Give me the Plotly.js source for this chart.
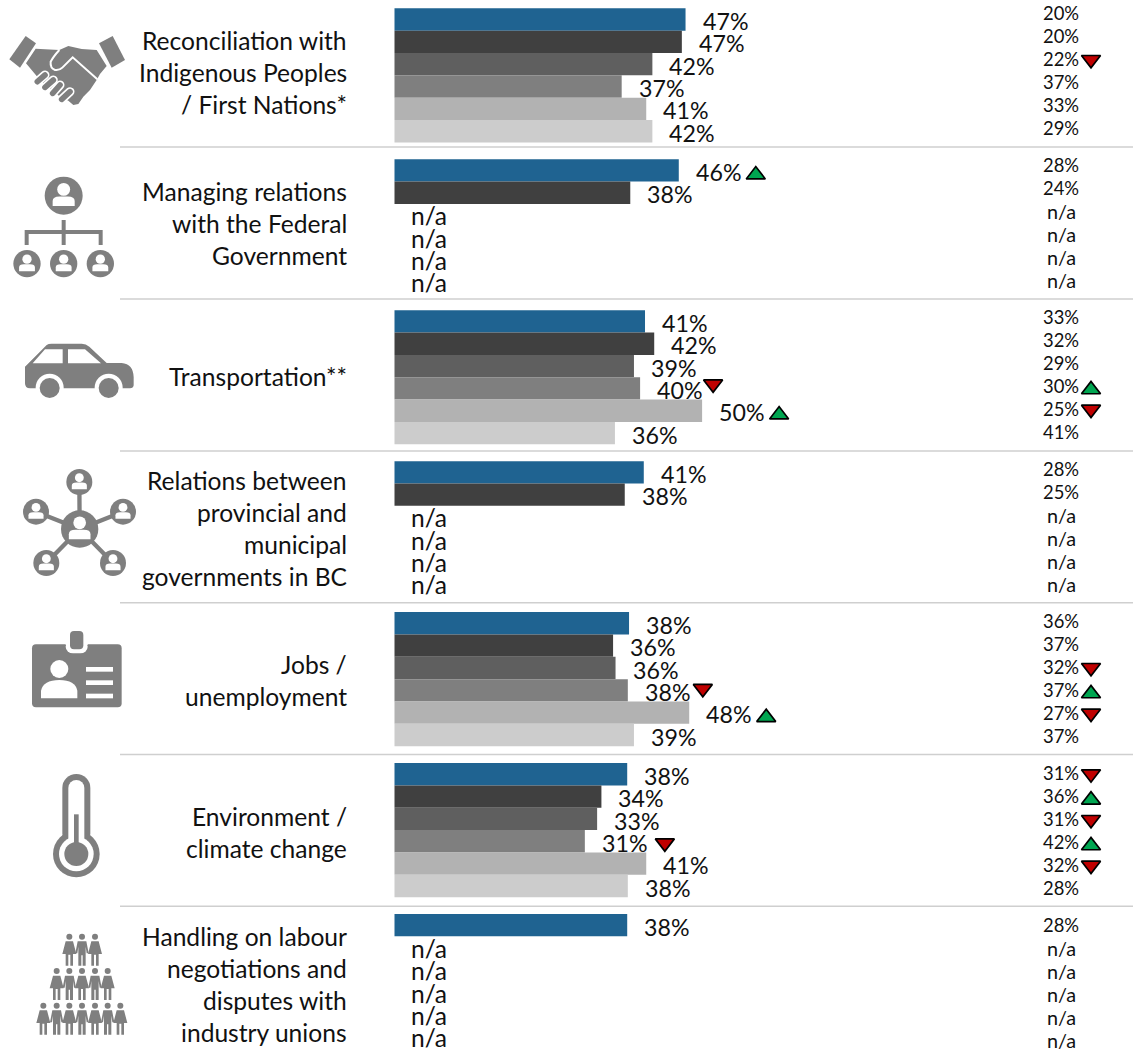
<!DOCTYPE html>
<html><head><meta charset="utf-8">
<script src="https://cdn.plot.ly/plotly-3.0.1.min.js"></script>
<style>html,body{margin:0;padding:0;background:#fff}#c{width:1133px;height:1052px}</style>
</head><body><div id="c"></div>
<script>
// ---------- data ----------
const categories = [
  ["Reconciliation with","Indigenous Peoples","/ First Nations*"],
  ["Managing relations","with the Federal","Government"],
  ["Transportation**"],
  ["Relations between","provincial and","municipal","governments in BC"],
  ["Jobs /","unemployment"],
  ["Environment /","climate change"],
  ["Handling on labour","negotiations and","disputes with","industry unions"]
];
const wave1 = [47.4,46.3,40.8,40.6,38.2,37.9,37.9];
const wave2 = [46.8,38.4,42.3,37.5,35.6,33.7,null];
const wave3 = [42.0,null,39.0,null,36.0,33.0,null];
const wave4 = [37.0,null,40.0,null,38.0,31.0,null];
const wave5 = [41.0,null,50.1,null,48.0,41.0,null];
const wave6 = [42.0,null,35.9,null,39.0,38.0,null];
const waves = [wave1,wave2,wave3,wave4,wave5,wave6];

const side1 = [20,28,33,28,36,31,28];
const side2 = [20,24,32,25,37,36,null];
const side3 = [22,null,29,null,32,31,null];
const side4 = [37,null,30,null,37,42,null];
const side5 = [33,null,25,null,27,32,null];
const side6 = [29,null,41,null,37,28,null];
const sides = [side1,side2,side3,side4,side5,side6];

// significance flags: [category, wave, direction]
const mainFlags = [[1,0,1],[2,3,-1],[2,4,1],[4,3,-1],[4,4,1],[5,3,-1]];
const sideFlags = [[0,2,-1],[2,3,1],[2,4,-1],[4,2,-1],[4,3,1],[4,4,-1],[5,0,-1],[5,1,1],[5,2,-1],[5,3,1],[5,4,-1]];

// ---------- style / layout ----------
const colors = ["#1F6391","#404040","#5F5F5F","#7F7F7F","#B2B2B2","#CCCCCC"];
const W=1133,H=1052,X0=394.5,PXV=6.14,TOP=8.3,ROW=22.35,PITCH=150.95;
const mainFlagPx = [[77,2.3],[73,-2.3],[77,2],[75,0.3],[77,2.7],[80,3.8]];
const catCentre = [72.2,223.2,376.2,528.2,680.2,832.2,984.2];
const sepPx = [147,299,451,602.7,754.5,906.3];
const FONT = "Lato, Carlito, Calibri, sans-serif";
const MAIN=23.2, CAT=24.6, NA=24.6, SIDE=18.4, SIDENA=19.8, INK="#111111", ICON="#7F7F7F";

const xv = px => (px-X0)/PXV;
const yv = px => (px-TOP)/ROW-0.5;
const rowY = (g,s) => g*PITCH/ROW + s;
const rowPx = (g,s) => TOP+g*PITCH+(s+0.5)*ROW;
const sidePx = (g,s) => 13.4+g*152+s*22.85;

const traces = waves.map((vals,s)=>({
  type:"bar",orientation:"h",name:"Wave "+(s+1),
  x:vals,y:vals.map((v,g)=>rowY(g,s)),width:1,
  marker:{color:colors[s],line:{width:0}},hoverinfo:"skip",showlegend:false
}));

const up={x:[],y:[]},down={x:[],y:[]};
const R=8.25;
function addFlag(dir,xpx,ypx){
  const t=dir>0?up:down;
  t.x.push(xv(xpx)); t.y.push(yv(ypx + dir*R/4));
}
mainFlags.forEach(([g,s,dir],i)=>{
  addFlag(dir, X0+waves[s][g]*PXV+mainFlagPx[i][0], rowPx(g,s)+mainFlagPx[i][1]);
});
sideFlags.forEach(([g,s,dir])=>{ addFlag(dir,1091,sidePx(g,s)+(dir>0?1.6:2.6)); });
[[up,"triangle-up","#00A651"],[down,"triangle-down","#C00000"]].forEach(([t,sym,col])=>{
  traces.push({type:"scatter",mode:"markers",x:t.x,y:t.y,hoverinfo:"skip",showlegend:false,cliponaxis:false,
    marker:{symbol:sym,size:16.5,color:col,line:{color:"#000000",width:1.7}}});
});

const annotations=[];
function txt(text,xpx,ypx,size,anchor){
  annotations.push({text,xref:"paper",yref:"paper",x:xpx/W,y:1-ypx/H,xanchor:anchor,yanchor:"middle",
    showarrow:false,align:anchor==="right"?"right":"left",borderpad:0,font:{family:FONT,size,color:INK}});
}
categories.forEach((lines,g)=>{
  lines.forEach((ln,i)=>txt(ln,348,catCentre[g]+(i-(lines.length-1)/2)*32,CAT,"right"));
});
waves.forEach((vals,s)=>vals.forEach((v,g)=>{
  if(v===null) txt("n/a",410,rowPx(g,s)+0.8,NA,"left");
  else txt(Math.round(v)+"%",X0+v*PXV+16,rowPx(g,s)+1.6,MAIN,"left");
}));
sides.forEach((vals,s)=>vals.forEach((v,g)=>{
  if(v===null) txt("n/a",1061,sidePx(g,s),SIDENA,"center");
  else txt(v+"%",1061,sidePx(g,s),SIDE,"center");
}));

const shapes=sepPx.map(p=>({type:"line",xref:"paper",yref:"paper",x0:120/W,x1:1,y0:1-p/H,y1:1-p/H,
  line:{color:"#CFCFCF",width:1.6},layer:"below"}));

// ---------- decorative icons (zoomed-crop coordinates, 3 units = 1 page px) ----------
function person(cx,cy,r){
  return `<circle cx="${cx}" cy="${cy-0.33*r}" r="${0.34*r}" fill="#fff"/>`+
   `<path d="M${cx-0.58*r} ${cy+0.55*r}V${cy+0.28*r}Q${cx-0.58*r} ${cy+0.04*r} ${cx-0.22*r} ${cy+0.04*r}H${cx+0.22*r}Q${cx+0.58*r} ${cy+0.04*r} ${cx+0.58*r} ${cy+0.28*r}V${cy+0.55*r}Z" fill="#fff"/>`;
}
function disc(cx,cy,r){return `<circle cx="${cx}" cy="${cy}" r="${r}"/>`+person(cx,cy,r);}
function woman(x,y){return `<circle cx="${x}" cy="${y}" r="9"/><path d="M${x-11} ${y+14}H${x+11}L${x+21} ${y+52}H${x+11}V${y+87}H${x+3}V${y+54}H${x-3}V${y+87}H${x-11}V${y+52}H${x-21}Z"/>`;}
function man(x,y){return `<circle cx="${x}" cy="${y}" r="9"/><path d="M${x-13} ${y+14}H${x+13}L${x+20} ${y+50}H${x+14}L${x+11} ${y+30}V${y+87}H${x+2}V${y+56}H${x-2}V${y+87}H${x-11}V${y+30}L${x-14} ${y+50}H${x-20}Z"/>`;}
function crowd(xs,y){return xs.map((x,i)=>(i%2?man:woman)(x,y)).join("");}
function capsule(x1,y1,x2,y2){
  return `<path d="M${x1} ${y1}L${x2} ${y2}" stroke="#fff" stroke-width="27" stroke-linecap="round" fill="none"/>`+
         `<path d="M${x1} ${y1}L${x2} ${y2}" stroke="${ICON}" stroke-width="17" stroke-linecap="round" fill="none"/>`;
}

const icons=[
 {box:[20,95,365,235],oy:0,svg:
  `<path d="M28 178L77 108L108 130L60 203Z"/><path d="M297 130L338 108L375 180L335 203Z"/>
   <path d="M107 146L178 150L205 138L245 147L290 150L320 198L300 222L290 240L270 270L250 290L235 312L220 315L205 302L180 290L120 240L78 190Z"/>
   <path d="M178 150Q160 170 152 185Q150 205 165 210Q178 212 187 203L218 172L292 238" fill="none" stroke="#fff" stroke-width="6"/>`+
   capsule(112,245,135,225)+capsule(135,262,160,240)+capsule(158,280,180,255)+capsule(185,298,210,275)},
 {box:[30,520,320,320],oy:0,svg:
  disc(191,587,57)+`<path d="M185 660h12v30h111v45h-12v-33h-99v33h-12v-33h-99v33h-12v-45h111z"/>`+disc(81,791,41)+disc(191,791,41)+disc(301,791,41)},
 {box:[65,125,345,175],oy:300,svg:
  `<path d="M75 200L120 155L140 135Q145 131 155 131H245Q258 131 268 140L320 189H365Q400 192 401 232V256Q400 265 390 265H90Q75 265 75 250Z"/>
   <path d="M98 190L135 148H188V190Z M204 148H255L303 190H204Z" fill="#fff"/>
   <circle cx="149" cy="263" r="42" fill="#fff"/><circle cx="326" cy="263" r="42" fill="#fff"/>
   <rect x="60" y="267" width="360" height="40" fill="#fff"/>
   <circle cx="149" cy="264" r="30"/><circle cx="326" cy="264" r="30"/>`},
 {box:[60,500,360,340],oy:300,svg:
  `<path d="M239 687L238 546M239 687L108 635M239 687L369 635M239 687L139 789M239 687L339 789" stroke="${ICON}" stroke-width="13" fill="none"/>`+
  disc(238,546,39)+disc(108,635,39)+disc(369,635,39)+disc(139,789,39)+disc(339,789,39)+disc(239,687,56)},
 {box:[90,90,280,240],oy:600,svg:
  `<rect x="96" y="133" width="269" height="189" rx="12"/>
   <rect x="197" y="120" width="66" height="40" rx="22" fill="#fff"/><rect x="197" y="85" width="66" height="50" fill="#fff"/>
   <rect x="210" y="93" width="40" height="55" rx="12"/>
   <circle cx="178" cy="207" r="27" fill="#fff"/>
   <path d="M123 295V272Q130 240 178 240Q226 240 232 272V295Z" fill="#fff"/>
   <rect x="258" y="201" width="81" height="14" fill="#fff"/><rect x="258" y="241" width="81" height="14" fill="#fff"/><rect x="258" y="281" width="81" height="14" fill="#fff"/>`},
 {box:[150,515,160,325],oy:600,svg:
  `<rect x="187" y="522" width="84" height="220" rx="42"/><circle cx="229" cy="762" r="70"/>
   <rect x="205" y="540" width="48" height="220" rx="24" fill="#fff"/><circle cx="229" cy="762" r="52" fill="#fff"/>
   <circle cx="229" cy="762" r="36"/><rect x="222" y="643" width="14" height="110"/>`},
 {box:[100,995,295,320],oy:600,svg:
  crowd([208,246,285],1010)+crowd([170,208,246,285,323],1113)+crowd([130,170,208,246,285,323,361],1217)}
];
const images=icons.map(ic=>{
  const [zx,zy,zw,zh]=ic.box;
  const svg=`<svg xmlns="http://www.w3.org/2000/svg" width="${zw}" height="${zh}" viewBox="${zx} ${zy} ${zw} ${zh}" fill="${ICON}">${ic.svg}</svg>`;
  return {source:"data:image/svg+xml;charset=utf-8,"+encodeURIComponent(svg),xref:"paper",yref:"paper",
    x:(zx/3)/W,y:1-(ic.oy+zy/3)/H,sizex:(zw/3)/W,sizey:(zh/3)/H,sizing:"stretch",xanchor:"left",yanchor:"top",layer:"above"};
});

Plotly.newPlot("c",traces,{
  width:W,height:H,margin:{l:0,r:0,t:0,b:0},paper_bgcolor:"#fff",plot_bgcolor:"#fff",
  barmode:"overlay",showlegend:false,font:{family:FONT},
  xaxis:{range:[xv(0),xv(W)],visible:false,fixedrange:true},
  yaxis:{range:[yv(H),yv(0)],visible:false,fixedrange:true},
  annotations,shapes,images
},{displayModeBar:false,staticPlot:true});
</script></body></html>
